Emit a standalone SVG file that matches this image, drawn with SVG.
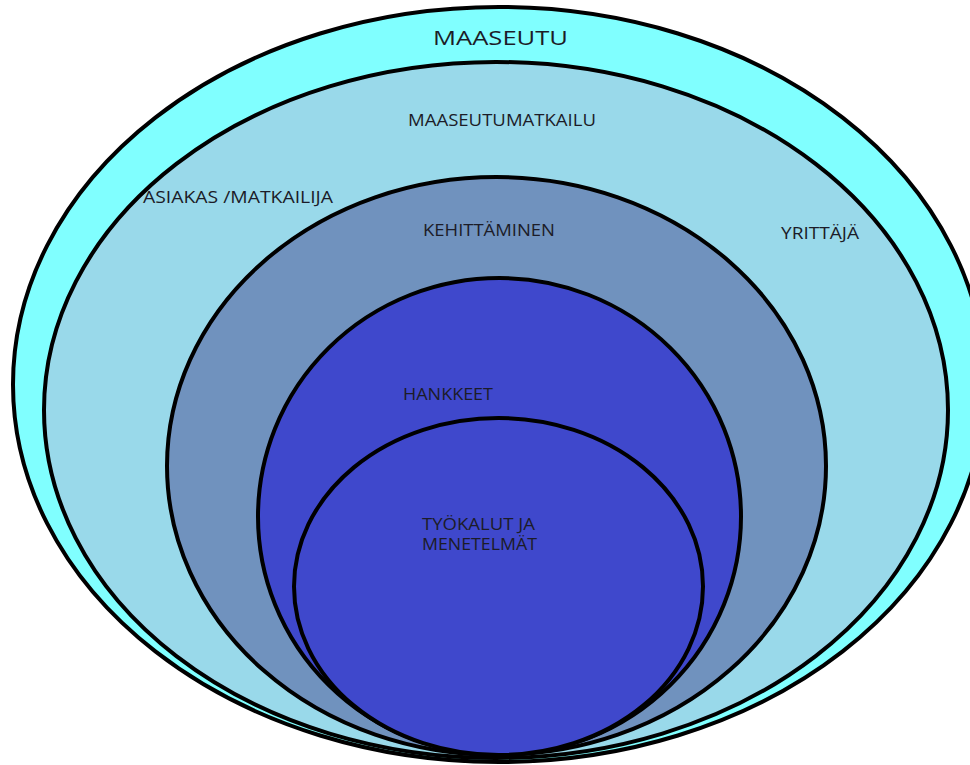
<svg xmlns="http://www.w3.org/2000/svg" width="970" height="765" viewBox="0 0 970 765">
<style>
.e{stroke:#000;stroke-width:4}
.t{font-family:"Open Sans","Liberation Sans",sans-serif;fill:#1c1c28;font-size:16px;font-weight:500}
</style>
<rect width="970" height="765" fill="#fff"/>
<g id="maaseutu">
<ellipse class="e" cx="499" cy="384.5" rx="486" ry="377.5" fill="#80ffff"/>
<text class="t" x="433" y="45" style="font-size:20px" textLength="135" lengthAdjust="spacingAndGlyphs">MAASEUTU</text>
</g>
<g id="maaseutumatkailu">
<ellipse class="e" cx="496" cy="410" rx="452" ry="348" fill="#99d9ea"/>
<text class="t" x="408" y="126" textLength="188" lengthAdjust="spacingAndGlyphs">MAASEUTUMATKAILU</text>
<text class="t" x="143" y="203" textLength="190" lengthAdjust="spacingAndGlyphs">ASIAKAS /MATKAILIJA</text>
<text class="t" x="781" y="239" textLength="78" lengthAdjust="spacingAndGlyphs">YRITTÄJÄ</text>
</g>
<g id="kehittaminen">
<ellipse class="e" cx="496.5" cy="466" rx="329.5" ry="289" fill="#7092be"/>
<text class="t" x="423" y="236" textLength="132" lengthAdjust="spacingAndGlyphs">KEHITTÄMINEN</text>
</g>
<g id="hankkeet">
<ellipse class="e" cx="499.5" cy="516.5" rx="241.5" ry="238.5" fill="#3f48cc"/>
<text class="t" x="403" y="400" textLength="90" lengthAdjust="spacingAndGlyphs">HANKKEET</text>
</g>
<g id="tyokalut">
<ellipse class="e" cx="498.5" cy="586.5" rx="204.5" ry="168.5" fill="#3f48cc"/>
<text class="t" x="422" y="530" textLength="113" lengthAdjust="spacingAndGlyphs">TYÖKALUT JA</text>
<text class="t" x="422" y="550" textLength="115" lengthAdjust="spacingAndGlyphs">MENETELMÄT</text>
</g>
<g id="connectors"/>
</svg>
